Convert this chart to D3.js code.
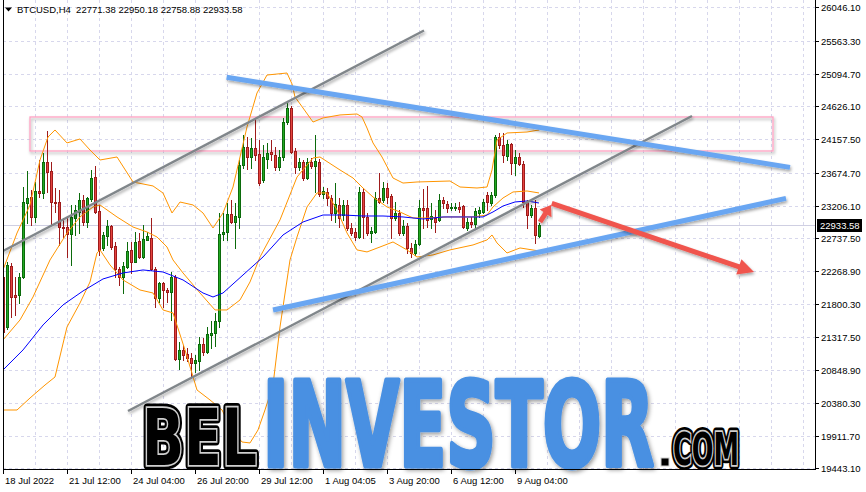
<!DOCTYPE html>
<html><head><meta charset="utf-8">
<script src="https://cdn.jsdelivr.net/npm/d3@7"></script>
<style>body{margin:0;background:#fff;overflow:hidden}svg{display:block;font-family:"Liberation Sans",Arial,sans-serif}</style>
</head><body><svg id="c" width="866" height="492"></svg>
<script>
// ---------- DATA ----------
const symbol = "BTCUSD,H4";
const lastOHLC = [22771.38, 22950.18, 22758.88, 22933.58];
const openP = [22187,21471,22341,21925,21925,22187,23247,23329,23047,23415,23387,23830,23702,23262,23262,22904,22900,22800,23029,23119,
23286,22976,23301,23615,23133,22604,22771,22914,22628,22293,22187,22331,22571,22405,22700,22473,22709,22741,22293,21877,
22092,21997,21972,22179,21004,21138,21080,21027,20947,20985,21224,21114,21355,21380,21546,22800,22830,23086,22976,23047,
23787,24041,23898,24027,23945,23572,23869,23969,23931,23754,23906,24399,24599,23992,23763,23835,23597,23835,23777,23835,
23372,23405,23319,23095,23215,23071,23215,22881,22833,22761,23405,23047,22810,22833,23311,23286,23454,23339,23025,23095,
22810,22914,22594,22523,22657,23167,23167,23010,23029,23000,23286,23229,23167,23172,23190,23201,22881,22976,22943,23104,
23119,23358,23247,23358,24193,24074,23916,24088,23812,23906,23802,23262,23071,23167,22771.38];
const highP = [22255,22405,22380,22187,22240,23477,23701,23429,23548,23859,23959,24279,23835,23458,23429,23029,23057,23215,23215,23387,
23358,23329,23716,23773,23215,22829,23000,22928,22690,22331,22405,22690,22690,22833,22810,22928,22833,23025,22331,22116,
22116,22021,22259,22212,21256,21209,21162,21090,21066,21328,21305,21472,21546,21662,23104,23104,23239,23286,23239,23859,
24217,24184,24170,24442,24145,24074,24102,24145,24045,24002,24461,24671,24632,24031,23883,23859,23883,23892,24217,23869,
23477,23454,23358,23525,23311,23286,23286,22957,22885,23472,23454,23100,22904,23405,23677,23548,23525,23377,23262,23143,
23000,22952,22666,22714,23286,23439,23487,23239,23143,23372,23325,23276,23239,23248,23262,23215,23025,23047,23167,23190,
23296,23405,23405,24217,24250,24250,24145,24102,24002,23955,23849,23286,23215,23286,22950.18];
const lowP = [21367,21434,21615,21639,21811,22169,22957,22928,22976,23329,23315,23405,22928,23119,22642,22760,22473,22355,22785,22814,
22928,22904,23272,23100,22499,22571,22642,22586,22187,22069,21954,22308,22240,22391,22451,22451,22709,22283,21758,21829,
21758,21829,21567,20994,20861,20994,20973,20732,20827,20851,21066,21090,21166,21188,21472,22714,22714,22952,22594,22881,
23740,23726,23740,23859,23501,23544,23744,23859,23716,23716,23859,24375,23959,23668,23716,23573,23582,23740,23405,23344,
23311,23215,23000,22976,22904,23000,22857,22785,22714,22737,22737,22785,22690,22810,23243,23262,23239,22737,23000,22785,
22785,22523,22473,22499,22642,22881,22904,22881,22833,22990,23167,23119,23143,23143,23119,22881,22857,22904,22881,23047,
23095,23143,23215,23334,24027,23835,23859,23659,23644,23787,23190,22881,23047,22666,22758.88];
const closeP = [21400,22355,21900,21900,22187,23262,23315,23043,23415,23387,23835,23692,23262,23243,22900,22885,22800,23047,23143,23286,
22976,23315,23601,23119,22571,22785,22914,22618,22293,22187,22341,22556,22405,22690,22473,22723,22770,22293,21877,22092,
21997,21972,22183,21004,21138,21066,21027,20947,20994,21224,21114,21365,21380,21546,22800,22830,23086,22976,23057,23787,
24041,23898,24027,23931,23525,23906,23955,23941,23754,23906,24399,24599,23978,23763,23835,23597,23835,23777,23849,23372,
23415,23311,23095,23229,23029,23215,22881,22819,22761,23396,23047,22810,22843,23311,23262,23454,23329,23025,23095,22810,
22914,22594,22523,22657,23167,23143,23000,23057,22967,23286,23239,23167,23181,23190,23157,22904,22976,22938,23133,23143,
23262,23262,23358,24193,24074,23931,24088,23812,23906,23797,23262,23071,23167,22785,22933.58];

// Bollinger bands (orange) and moving average (blue): [bar index, price]
const bbUpper = [[0,22284],[3.5,22813],[6.75,23215],[9.25,23859],[11.25,24188],[13,24289],[16,24103],[19.25,24160],[21.75,24002],[24.25,23859],[28.5,23902],[32.5,23544],[37.5,23487],[40,23386],[42.25,23100],[44.25,23257],[47.5,23215],[50,23100],[52.5,22885],[55,23100],[57.5,23472],[61,24332],[63.5,24819],[66,25076],[71,25105],[72.25,24948],[73,24761],[75,24604],[77.5,24403],[80,24461],[84.25,24504],[88.5,24518],[89.75,24475],[91,24317],[92.5,24103],[94.75,23902],[97.5,23601],[100,23529],[103.5,23544],[111.75,23558],[114.25,23472],[118.5,23458],[121,23472],[122.25,23716],[123.5,24145],[126,24246],[131,24260],[134,24289]];
const bbMiddle = [[0,21281],[4.25,21568],[7.5,21897],[11.75,22427],[16,22813],[19.25,23043],[22.5,23186],[24.25,23215],[28.5,23043],[32.5,22899],[36,22828],[38.5,22756],[41,22613],[42.5,22427],[45,22241],[49.25,21954],[53,21711],[56,21711],[59.25,21854],[61.75,22112],[64.25,22470],[69.25,23001],[73.5,23615],[77.5,23888],[79.25,23902],[84.25,23716],[87.5,23601],[90,23458],[92.5,23329],[96,23186],[99.25,23114],[102.5,23029],[106,23029],[111,23043],[117.5,23043],[121,23071],[122.5,23186],[125,23315],[127.5,23401],[131,23415],[134,23387]];
const bbLower = [[0,20278],[3.5,20278],[6.75,20450],[10.5,20636],[13,20751],[16,21467],[19.25,21811],[21.75,22112],[23.5,22527],[24.25,22571],[26.75,22356],[30,22141],[34.25,21997],[37.5,21954],[40,21711],[42.5,21668],[45.5,21138],[48.5,20565],[51.75,20422],[54.75,20279],[57.25,19992],[59.75,19820],[61.75,19806],[63.75,19992],[65.5,20279],[67.5,20637],[69.25,21467],[71.75,22427],[73.5,22756],[76,23186],[78.5,23387],[81,23387],[83.5,23143],[86,22813],[88.5,22571],[91,22542],[94.25,22613],[97.5,22685],[101,22571],[103.5,22470],[107.5,22499],[111.75,22571],[117.5,22642],[121,22714],[122.25,22785],[123.5,22671],[126,22527],[129.25,22599],[134,22556]];
const maBlue = [[0,20851],[5,21138],[10,21496],[15,21783],[20,21983],[25,22155],[30,22241],[35,22284],[40,22255],[45,22141],[50,21954],[52.5,21897],[55,21954],[60,22212],[65,22470],[70,22785],[75,22971],[80,23071],[85,23071],[90,23057],[95,23057],[100,23043],[105,23014],[110,23043],[115,23043],[120,23043],[122.5,23115],[125,23200],[128,23258],[131,23272],[134,23243]];

// axis labels
const yTicks = [26046.10,25563.30,25094.70,24626.10,24157.50,23674.70,23206.10,22737.50,22268.90,21800.30,21317.50,20848.90,20380.30,19911.70,19443.10];
const xTickIdx = [0,16,32,48,64,80,96,112,128];
const xTickLabels = ["18 Jul 2022","21 Jul 12:00","24 Jul 04:00","26 Jul 20:00","29 Jul 12:00","1 Aug 04:05","3 Aug 20:00","6 Aug 12:00","9 Aug 04:00"];

// drawn objects: [idx1, price1, idx2, price2]
const zoneRect = [6.75, 24475, 192.5, 23988];
const grayLines = [[0,22556,105.25,25714],[31.25,20264,172.25,24489]];
const blueLines = [[55.9,25044,196.75,23753],[67.5,21711,195.75,23309]];
const redShort = [134.25,22971,137,23215];
const redLong = [137.2,23239,187.75,22255];

// ---------- DRAW ----------
const svg = d3.select('#c');
const L=3, R=815, T=0, B=469;
const x = d3.scaleLinear().domain([0,203]).range([3,815]);
const y = d3.scaleLinear().domain([19443.1,26046.1]).range([468.3,7.3]);

const defs = svg.append('defs');
defs.append('clipPath').attr('id','plot').append('rect').attr('x',L).attr('y',T).attr('width',R-L).attr('height',B-T);
const sh = defs.append('filter').attr('id','sh').attr('x','-10%').attr('y','-10%').attr('width','120%').attr('height','140%');
sh.append('feDropShadow').attr('dx',1).attr('dy',2).attr('stdDeviation',1.5).attr('flood-color','#000').attr('flood-opacity',0.35);
const sh2 = defs.append('filter').attr('id','sh2').attr('x','-5%').attr('y','-10%').attr('width','110%').attr('height','130%');
sh2.append('feDropShadow').attr('dx',1.5).attr('dy',2).attr('stdDeviation',2).attr('flood-color','#000').attr('flood-opacity',0.4);

svg.append('rect').attr('width',866).attr('height',492).attr('fill','#fff');
const plot = svg.append('g').attr('clip-path','url(#plot)');

// grid
const gridC = '#d7d7ec';
for(let k=0;k*8<=203;k++){
  const gx = Math.round(x(k*8))+0.5;
  plot.append('line').attr('x1',gx).attr('x2',gx).attr('y1',0).attr('y2',B)
    .attr('stroke',gridC).attr('stroke-dasharray','3,3');
}
yTicks.forEach(v=>{
  const gy = Math.round(y(v))+0.5;
  plot.append('line').attr('x1',L).attr('x2',R).attr('y1',gy).attr('y2',gy)
    .attr('stroke',gridC).attr('stroke-dasharray','3,3');
});
// current price line
const cy = Math.round(y(lastOHLC[3]))+0.5;
plot.append('line').attr('x1',L).attr('x2',R).attr('y1',cy).attr('y2',cy).attr('stroke','#cfcfe2');

// zone rectangle
plot.append('rect').attr('x',x(zoneRect[0])).attr('y',y(zoneRect[1]))
  .attr('width',x(zoneRect[2])-x(zoneRect[0])).attr('height',y(zoneRect[3])-y(zoneRect[1]))
  .attr('fill','none').attr('stroke','#ffa3c3').attr('stroke-width',1.3).attr('filter','url(#sh)');

// candles
const n = closeP.length;
const cg = plot.append('g');
for(let i=0;i<n;i++){
  const o=openP[i],h=highP[i],l=lowP[i],c=closeP[i];
  const up = c>=o;
  const cx = Math.round(x(i));
  const wc = up ? '#0b6a0b' : '#9e1b1b';
  cg.append('line').attr('x1',cx+0.5).attr('x2',cx+0.5).attr('y1',Math.round(y(h))).attr('y2',Math.round(y(l))+1)
    .attr('stroke',wc).attr('stroke-width',1);
  const yt = Math.round(y(Math.max(o,c))), yb = Math.round(y(Math.min(o,c)));
  cg.append('rect').attr('x',cx-0.5).attr('y',yt+0.5).attr('width',2).attr('height',Math.max(yb-yt,0.01))
    .attr('fill', up ? '#22a822' : '#e5433f').attr('stroke',wc).attr('stroke-width',1);
}

// indicators
const line = d3.line().x(d=>x(d[0])).y(d=>y(d[1]));
[bbUpper,bbMiddle,bbLower].forEach(s=>{
  plot.append('path').attr('d',line(s)).attr('fill','none').attr('stroke','#ff9500').attr('stroke-width',1);
});
plot.append('path').attr('d',line(maBlue)).attr('fill','none').attr('stroke','#0000ff').attr('stroke-width',1);

// gray channel lines
grayLines.forEach(d=>{
  plot.append('line').attr('x1',x(d[0])).attr('y1',y(d[1])).attr('x2',x(d[2])).attr('y2',y(d[3]))
    .attr('stroke','#80868a').attr('stroke-width',2.4).attr('filter','url(#sh)');
});
// blue trend lines
blueLines.forEach(d=>{
  plot.append('line').attr('x1',x(d[0])).attr('y1',y(d[1])).attr('x2',x(d[2])).attr('y2',y(d[3]))
    .attr('stroke','#69a6f2').attr('stroke-width',5).attr('filter','url(#sh)');
});
// red arrows
function arrow(d,len,wid,sw){
  const x1=x(d[0]),y1=y(d[1]),x2=x(d[2]),y2=y(d[3]);
  const a=Math.atan2(y2-y1,x2-x1);
  const bx=x2-len*Math.cos(a), by=y2-len*Math.sin(a);
  const px=-Math.sin(a)*wid/2, py=Math.cos(a)*wid/2;
  const g=plot.append('g').attr('filter','url(#sh)');
  g.append('line').attr('x1',x1).attr('y1',y1).attr('x2',bx+Math.cos(a)*2).attr('y2',by+Math.sin(a)*2)
    .attr('stroke','#f0554e').attr('stroke-width',sw);
  g.append('path').attr('d',`M${x2},${y2}L${bx+px},${by+py}L${bx-px},${by-py}Z`).attr('fill','#f0554e');
}
arrow(redShort,10,14,5);
arrow(redLong,16,16,5);

// logo
const lg = svg.append('g').style('font-family','"Liberation Sans Narrow","DejaVu Sans Condensed","Liberation Sans",sans-serif').style('font-weight','bold');
function outlined(txt,x0,base,fs,len){
  lg.append('text').attr('x',x0).attr('y',base).attr('font-size',fs).attr('textLength',len).attr('lengthAdjust','spacingAndGlyphs')
    .attr('fill','#000').attr('stroke','#000').attr('stroke-width',9).attr('stroke-linejoin','round').text(txt);
  lg.append('text').attr('x',x0).attr('y',base).attr('font-size',fs).attr('textLength',len).attr('lengthAdjust','spacingAndGlyphs')
    .attr('fill','#000').attr('stroke','#cfcfcf').attr('stroke-width',3.5).style('paint-order','stroke').text(txt);
}
outlined('BEL',142,465,79,115);
lg.append('text').attr('x',263).attr('y',466).attr('font-size',117).attr('textLength',391).attr('lengthAdjust','spacingAndGlyphs')
  .attr('fill','#4a90e2').attr('stroke','#4a90e2').attr('stroke-width',5).attr('stroke-linejoin','round').attr('filter','url(#sh2)').text('INVESTOR');
lg.append('rect').attr('x',661).attr('y',458).attr('width',8).attr('height',8).attr('fill','#000').attr('stroke','#cfcfcf').attr('stroke-width',1);
outlined('COM',673,465,44,66);

// axes
const ax = svg.append('g');
ax.append('line').attr('x1',L+0.5).attr('x2',L+0.5).attr('y1',0).attr('y2',B+0.5).attr('stroke','#000');
ax.append('line').attr('x1',R+0.5).attr('x2',R+0.5).attr('y1',0).attr('y2',B+0.5).attr('stroke','#000');
ax.append('line').attr('x1',L).attr('x2',R+1).attr('y1',B+0.5).attr('y2',B+0.5).attr('stroke','#000');
yTicks.forEach(v=>{
  const ty=Math.round(y(v))+0.5;
  ax.append('line').attr('x1',R).attr('x2',R+4).attr('y1',ty).attr('y2',ty).attr('stroke','#000');
  ax.append('text').attr('x',821).attr('y',ty+3.5).attr('font-size',9.5).attr('fill','#000').text(v.toFixed(2));
});
xTickIdx.forEach((v,i)=>{
  const tx=Math.round(x(v))+0.5;
  ax.append('line').attr('x1',tx).attr('x2',tx).attr('y1',B).attr('y2',B+5).attr('stroke','#000');
  ax.append('text').attr('x',tx+1.5).attr('y',484).attr('font-size',9.5).attr('fill','#000').text(xTickLabels[i]);
});
// current price tag
ax.append('rect').attr('x',817).attr('y',cy-6.5).attr('width',45).attr('height',13).attr('fill','#000');
ax.append('text').attr('x',820).attr('y',cy+3.5).attr('font-size',9.5).attr('fill','#fff').text(lastOHLC[3].toFixed(2));

// header
svg.append('path').attr('d','M5,7.5L12,7.5L8.5,11.5Z').attr('fill','#000');
svg.append('text').attr('x',17).attr('y',13).attr('font-size',9.5).attr('fill','#000')
  .attr('xml:space','preserve').text(symbol+'  '+lastOHLC.map(v=>v.toFixed(2)).join(' '));
</script></body></html>
